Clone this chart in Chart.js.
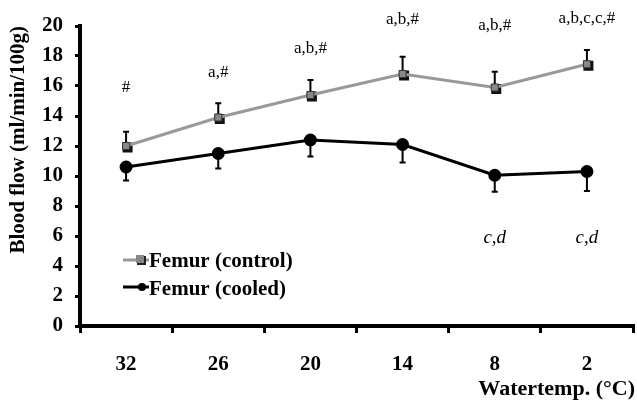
<!DOCTYPE html>
<html>
<head>
<meta charset="utf-8">
<script src="https://cdn.jsdelivr.net/npm/chart.js@4.4.1/dist/chart.umd.min.js"></script>
<style>
  html, body { margin: 0; padding: 0; background: #fff; overflow: hidden; width: 637px; height: 403px; }
  #wrap { width: 641px; height: 403px; }
</style>
</head>
<body>
<div id="wrap"><canvas id="c" width="641" height="403"></canvas></div>
<script>
// ---- data ----
const categories = ['32', '26', '20', '14', '8', '2'];
const controlValues = [12.0, 13.9, 15.4, 16.8, 15.9, 17.45];
const controlErrors = [0.95, 0.95, 1.0, 1.15, 1.05, 0.95];
const cooledValues = [10.6, 11.5, 12.4, 12.1, 10.05, 10.3];
const cooledErrors = [0.9, 1.0, 1.1, 1.2, 1.1, 1.3];
const controlNotes = ['#', 'a,#', 'a,b,#', 'a,b,#', 'a,b,#', 'a,b,c,c,#'];
const controlNoteLevels = [15.9, 16.9, 18.5, 20.4, 20.0, 20.5];
const cooledNotes = ['', '', '', '', 'c,d', 'c,d'];
const cooledNoteLevels = [null, null, null, null, 5.87, 5.87];
const yTicks = [0, 2, 4, 6, 8, 10, 12, 14, 16, 18, 20];
const seriesNames = ['Femur (control)', 'Femur (cooled)'];
const xTitle = 'Watertemp. (°C)';
const yTitle = 'Blood flow (ml/min/100g)';

const SERIF = '"Liberation Serif", "Times New Roman", serif';

const errorBars = {
  id: 'errorBars',
  beforeDatasetsDraw(chart) {
    const ctx = chart.ctx;
    const y = chart.scales.y;
    const sets = [
      { idx: 0, errs: controlErrors, dir: 1 },
      { idx: 1, errs: cooledErrors, dir: -1 }
    ];
    ctx.save();
    ctx.strokeStyle = '#000';
    ctx.lineWidth = 2;
    sets.forEach(s => {
      const meta = chart.getDatasetMeta(s.idx);
      const vals = chart.data.datasets[s.idx].data;
      meta.data.forEach((pt, i) => {
        const yEnd = y.getPixelForValue(vals[i] + s.dir * s.errs[i]);
        ctx.beginPath();
        ctx.moveTo(pt.x, pt.y);
        ctx.lineTo(pt.x, yEnd);
        ctx.moveTo(pt.x - 3, yEnd);
        ctx.lineTo(pt.x + 3, yEnd);
        ctx.stroke();
      });
    });
    // shadows for control squares
    const meta0 = chart.getDatasetMeta(0);
    ctx.fillStyle = '#111';
    meta0.data.forEach(pt => {
      ctx.fillRect(pt.x - 3.5, pt.y - 3.5, 10, 10);
    });
    ctx.restore();
  }
};

const annotations = {
  id: 'annotations',
  afterDraw(chart) {
    const ctx = chart.ctx;
    const x = chart.scales.x;
    const y = chart.scales.y;
    ctx.save();
    ctx.fillStyle = '#000';
    ctx.textAlign = 'center';
    ctx.textBaseline = 'middle';
    ctx.font = '17px ' + SERIF;
    controlNotes.forEach((t, i) => {
      if (!t) return;
      ctx.fillText(t, x.getPixelForValue(i), y.getPixelForValue(controlNoteLevels[i]));
    });
    ctx.font = 'italic 19px ' + SERIF;
    cooledNotes.forEach((t, i) => {
      if (!t) return;
      ctx.fillText(t, x.getPixelForValue(i), y.getPixelForValue(cooledNoteLevels[i]));
    });
    // x axis title
    ctx.font = 'bold 22px ' + SERIF;
    ctx.textAlign = 'right';
    ctx.fillText(xTitle, 635, 389);
    // legend
    ctx.textAlign = 'left';
    ctx.font = 'bold 21px ' + SERIF;
    // control row
    ctx.strokeStyle = '#999';
    ctx.lineWidth = 3;
    ctx.beginPath(); ctx.moveTo(123, 260); ctx.lineTo(149, 260); ctx.stroke();
    ctx.fillStyle = '#222';
    ctx.fillRect(137, 256, 9, 9);
    ctx.fillStyle = '#888';
    ctx.fillRect(136, 255, 8, 8);
    ctx.fillStyle = '#000';
    ctx.fillText(seriesNames[0], 149, 262);
    // cooled row
    ctx.strokeStyle = '#000';
    ctx.beginPath(); ctx.moveTo(123, 287); ctx.lineTo(149, 287); ctx.stroke();
    ctx.beginPath(); ctx.arc(142, 287, 4, 0, Math.PI * 2); ctx.fill();
    ctx.fillText(seriesNames[1], 149, 290);
    ctx.restore();
  }
};

new Chart(document.getElementById('c'), {
  type: 'line',
  data: {
    labels: categories,
    datasets: [
      {
        label: seriesNames[0],
        data: controlValues,
        borderColor: '#999',
        borderWidth: 3,
        pointStyle: 'rect',
        pointRadius: 5,
        backgroundColor: '#888',
        pointBorderColor: '#333',
        pointBorderWidth: 1,
        tension: 0
      },
      {
        label: seriesNames[1],
        data: cooledValues,
        borderColor: '#000',
        borderWidth: 3,
        pointStyle: 'circle',
        pointRadius: 5,
        backgroundColor: '#000',
        pointBorderColor: '#000',
        tension: 0
      }
    ]
  },
  options: {
    responsive: false,
    animation: false,
    devicePixelRatio: 1,
    layout: { padding: { top: 26, left: 0, right: 0, bottom: 0 } },
    plugins: { legend: { display: false }, tooltip: { enabled: false } },
    scales: {
      x: {
        type: 'category',
        offset: true,
        afterFit(s) { s.height = 77; },
        border: { display: true, color: '#000', width: 4 },
        grid: { offset: true, drawOnChartArea: false, drawTicks: true, tickLength: 7, color: '#000', lineWidth: 3 },
        ticks: { color: '#000', padding: 19, font: { family: SERIF, size: 21, weight: 'bold' }, maxRotation: 0 }
      },
      y: {
        min: 0,
        max: 20,
        afterFit(s) { s.width = 80; },
        afterBuildTicks(s) { s.ticks = yTicks.map(v => ({ value: v })); },
        border: { display: true, color: '#000', width: 4 },
        grid: { drawOnChartArea: false, drawTicks: true, tickLength: 5, color: '#000', lineWidth: 3 },
        ticks: { color: '#000', padding: 12, font: { family: SERIF, size: 21, weight: 'bold' } },
        title: {
          display: true,
          text: yTitle,
          align: 'end',
          color: '#000',
          padding: { top: 6, bottom: 0 },
          font: { family: SERIF, size: 21, weight: 'bold' }
        }
      }
    }
  },
  plugins: [errorBars, annotations]
});
</script>
</body>
</html>
